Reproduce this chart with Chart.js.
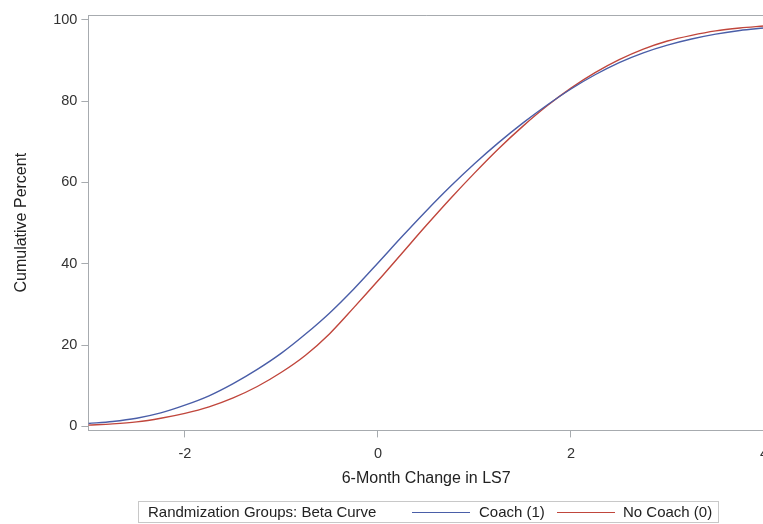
<!DOCTYPE html>
<html>
<head>
<meta charset="utf-8">
<script src="https://cdn.jsdelivr.net/npm/chart.js@4/dist/chart.umd.min.js"></script>
<style>
  html, body { margin: 0; padding: 0; background: #fff; overflow: hidden; }
  #wrap { position: relative; width: 763px; height: 524px; overflow: hidden; }
  #cv { position: absolute; left: 0; top: 0; }
  .lg { position: absolute; left: 138px; top: 501px; width: 581px; height: 22px;
        border: 1px solid #c8c8c8; box-sizing: border-box; font: 15px "Liberation Sans", Arial, sans-serif;
        color: #222; white-space: nowrap; }
  .lg span { position: absolute; top: 1px; }
  .lg i { position: absolute; top: 10px; height: 0; border-top: 1px solid; width: 58px; }
</style>
</head>
<body>
<div id="wrap">
  <canvas id="cv" width="776" height="524"></canvas>
  <div class="lg">
    <span style="left:9px">Randmization Groups: Beta Curve</span>
    <i style="left:273px; border-color:#4a5ea8"></i>
    <span style="left:340px">Coach (1)</span>
    <i style="left:418px; border-color:#c0463c"></i>
    <span style="left:484px">No Coach (0)</span>
  </div>
</div>
<script>
// 6-Month Change in LS7 (x) vs cumulative percent
const xVals = [-3, -2.75, -2.5, -2.25, -2, -1.75, -1.5, -1.25, -1, -0.75, -0.5, -0.25, 0,
               0.25, 0.5, 0.75, 1, 1.25, 1.5, 1.75, 2, 2.25, 2.5, 2.75, 3, 3.25, 3.5, 3.75, 4];
const coachVals = [0.7, 1.2, 2.0, 3.3, 5.2, 7.5, 10.5, 14.0, 18.0, 22.7, 27.9, 33.8, 40.2,
                   46.7, 53.0, 59.0, 64.6, 69.8, 74.6, 79.0, 83.0, 86.5, 89.5, 91.9, 93.8, 95.3, 96.5, 97.4, 98.0];
const noCoachVals = [0.3, 0.6, 1.1, 2.0, 3.2, 4.8, 7.0, 9.8, 13.3, 17.5, 22.8, 29.2, 35.8,
                     42.6, 49.4, 56.0, 62.3, 68.3, 73.8, 78.8, 83.2, 87.0, 90.2, 92.8, 94.8, 96.2, 97.3, 98.0, 98.5];
const xTicks = [-2, 0, 2, 4];
const yTicks = [0, 20, 40, 60, 80, 100];

const AXC = '#a7abaf';
const FONT = '"Liberation Sans", Arial, sans-serif';

// 上框線與右框線（Chart.js 只畫左、下軸線）
const frame = {
  id: 'frame',
  afterDraw(c) {
    const { ctx, chartArea: a } = c;
    ctx.save();
    ctx.strokeStyle = AXC; ctx.lineWidth = 1;
    ctx.beginPath();
    ctx.moveTo(a.left, a.top + 0.5); ctx.lineTo(a.right, a.top + 0.5);
    ctx.lineTo(a.right, a.bottom);
    ctx.stroke();
    ctx.restore();
  }
};

const mk = (ys) => xVals.map((x, i) => ({ x, y: ys[i] }));

new Chart(document.getElementById('cv'), {
  type: 'line',
  data: {
    datasets: [
      { label: 'Coach (1)', data: mk(coachVals), borderColor: '#4a5ea8', borderWidth: 1.4, pointRadius: 0, cubicInterpolationMode: 'monotone' },
      { label: 'No Coach (0)', data: mk(noCoachVals), borderColor: '#c0463c', borderWidth: 1.4, pointRadius: 0, cubicInterpolationMode: 'monotone' }
    ]
  },
  options: {
    responsive: false, animation: false,
    layout: { padding: { top: 15, left: 12, right: 0, bottom: 36 } },
    plugins: { legend: { display: false }, tooltip: { enabled: false } },
    scales: {
      x: {
        type: 'linear', min: -3, max: 4,
        afterBuildTicks: s => { s.ticks = xTicks.map(v => ({ value: v })); },
        border: { color: AXC },
        grid: { drawOnChartArea: false, color: AXC, tickLength: 7 },
        ticks: { color: '#333', font: { family: FONT, size: 14.5 }, padding: 8, maxRotation: 0 },
        title: { display: true, text: '6-Month Change in LS7', color: '#222', font: { family: FONT, size: 16 }, padding: { top: -2, bottom: 0 } }
      },
      y: {
        min: -1, max: 101.2,
        afterBuildTicks: s => { s.ticks = yTicks.map(v => ({ value: v })); },
        border: { color: AXC },
        grid: { drawOnChartArea: false, color: AXC, tickLength: 7 },
        ticks: { color: '#333', font: { family: FONT, size: 14.5 }, padding: 4 },
        title: { display: true, text: 'Cumulative Percent', color: '#222', font: { family: FONT, size: 16 }, padding: { top: 0, bottom: 18 } }
      }
    }
  },
  plugins: [frame]
});
</script>
</body>
</html>
